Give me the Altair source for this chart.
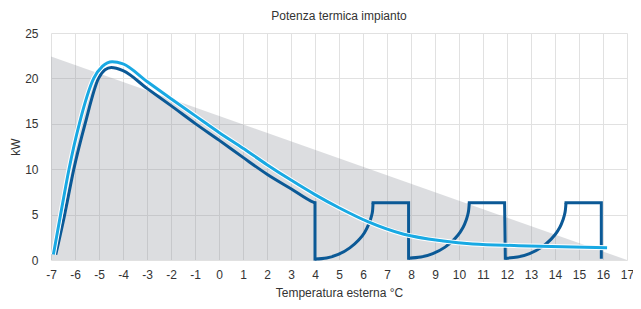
import altair as alt
import pandas as pd

# --- data ---
x_ticks = list(range(-7, 18))
y_ticks = [0, 5, 10, 15, 20, 25]

# grey background wedge
area_x = [-7, 17]
area_y = [22.4, 0]

# light blue curve
light_x = [-6.9, -6.6, -6.25, -5.82, -5.22, -4.85, -4.45, -4.0, -3.0, -2.0, -1.0,
           0.0, 1.0, 2.0, 3.0, 4.0, 5.0, 6.2, 7.7, 9.34, 10.57, 12.48, 14.3, 16.17]
light_y = [0.6, 5.0, 10.0, 15.0, 20.0, 21.35, 21.84, 21.6, 19.65, 17.75, 15.9,
           14.05, 12.3, 10.5, 8.8, 7.2, 5.75, 4.22, 2.83, 2.09, 1.76, 1.58, 1.45, 1.36]

# dark blue curve with its on/off steps; seg = piece number, smooth = curved piece
dark_x = [-6.8, -6.43, -6.05, -5.58, -5.02, -4.75, -4.49, -4.0, -3.0, -2.0, -1.0, 0.0, 1.0, 2.0, 3.0, 3.95, 4.0,
          4.0, 4.0,
          4.0, 4.48, 4.97, 5.45, 5.82, 6.06, 6.23, 6.35, 6.40, 6.42,
          6.42, 7.9, 7.9,
          7.9, 8.41, 8.91, 9.42, 9.8, 10.05, 10.23, 10.35, 10.4, 10.43,
          10.43, 11.9, 11.93,
          11.93, 12.44, 12.94, 13.45, 13.83, 14.08, 14.26, 14.38, 14.43, 14.46,
          14.46, 15.93, 15.93]
dark_y = [0.6, 5.0, 10.0, 15.0, 20.0, 20.95, 21.2, 20.85, 18.9, 17.0, 15.05, 13.2, 11.3, 9.45, 7.85, 6.35, 6.3,
          6.3, 0.1,
          0.1, 0.22, 0.61, 1.34, 2.2, 3.0, 3.9, 4.8, 5.45, 6.3,
          6.3, 6.3, 0.2,
          0.2, 0.32, 0.71, 1.42, 2.27, 3.07, 3.92, 4.84, 5.45, 6.3,
          6.3, 6.3, 0.2,
          0.2, 0.32, 0.71, 1.42, 2.27, 3.07, 3.92, 4.84, 5.45, 6.3,
          6.3, 6.3, 0.3]
dark_seg = [0] * 17 + [1] * 2 + [2] * 10 + [3] * 3 + [4] * 10 + [5] * 3 + [6] * 10 + [7] * 3
dark_smooth = [s % 2 == 0 for s in dark_seg]

FONT = "Liberation Sans, Arial, sans-serif"
TXT = "#333333"
LIGHT = "#19a9e3"
DARK = "#0b5996"

area_df = pd.DataFrame({"x": area_x, "y": area_y})
light_df = pd.DataFrame({"x": light_x, "y": light_y, "i": range(len(light_x))})
dark_df = pd.DataFrame({"x": dark_x, "y": dark_y, "seg": dark_seg, "smooth": dark_smooth,
                        "i": range(len(dark_x))})

xscale = alt.Scale(domain=[-7, 17], nice=False, zero=False)
yscale = alt.Scale(domain=[0, 25], nice=False)

xaxis = alt.Axis(values=x_ticks, title="Temperatura esterna °C", grid=True, domain=False,
                 ticks=False, tickSize=0, labelPadding=9, titlePadding=7, labelFlush=False,
                 labelExpr="'' + datum.value", labelOverlap=False,
                 labelFont=FONT, labelFontSize=12, labelColor=TXT,
                 titleFont=FONT, titleFontSize=12, titleFontWeight="normal", titleColor=TXT,
                 gridColor="#e1e1e1", gridWidth=1)
yaxis = alt.Axis(values=y_ticks, title="kW", grid=True, domain=False,
                 ticks=False, tickSize=0, labelPadding=13, titlePadding=2,
                 labelExpr="'' + datum.value",
                 labelFont=FONT, labelFontSize=12, labelColor=TXT,
                 titleFont=FONT, titleFontSize=12, titleFontWeight="normal", titleColor=TXT,
                 gridColor="#e1e1e1", gridWidth=1)

X = alt.X("x:Q", scale=xscale, axis=xaxis)
Y = alt.Y("y:Q", scale=yscale, axis=yaxis)

area = alt.Chart(area_df).mark_area(color="#8a8e98", opacity=0.3).encode(x=X, y=Y)

dark_smooth_l = alt.Chart(dark_df).transform_filter("datum.smooth").mark_line(
    color=DARK, strokeWidth=3, interpolate="monotone", strokeCap="butt"
).encode(x=X, y=Y, detail="seg:N", order=alt.Order("i:Q"))

dark_steps_l = alt.Chart(dark_df).transform_filter("!datum.smooth").mark_line(
    color=DARK, strokeWidth=3, strokeJoin="miter", strokeCap="square"
).encode(x=X, y=Y, detail="seg:N", order=alt.Order("i:Q"))

halo = alt.Chart(light_df).mark_line(color="white", strokeWidth=5, interpolate="monotone").encode(
    x=X, y=Y, order=alt.Order("i:Q"))

light = alt.Chart(light_df).mark_line(color=LIGHT, strokeWidth=3, interpolate="monotone").encode(
    x=X, y=Y, order=alt.Order("i:Q"))

chart = alt.layer(area, dark_smooth_l, dark_steps_l, halo, light).properties(
    width=576,
    height=227,
    padding={"left": 43, "top": 25, "right": 6, "bottom": 41},
    autosize=alt.AutoSizeParams(type="none"),
    title=alt.TitleParams("Potenza termica impianto", font=FONT, fontSize=12, fontWeight="normal",
                          color=TXT, anchor="middle", offset=4),
).configure_view(stroke=None)

chart.save("out.html", embed_options={"renderer": "svg", "actions": False})
